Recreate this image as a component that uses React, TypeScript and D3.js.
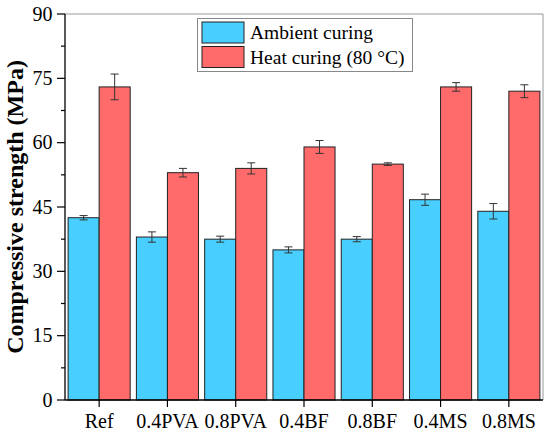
import React from "react";
import * as d3 from "d3";

const categories = ["Ref", "0.4PVA", "0.8PVA", "0.4BF", "0.8BF", "0.4MS", "0.8MS"];
const ambient = [42.5, 38, 37.5, 35, 37.5, 46.7, 44];
const ambientErr = [0.5, 1.2, 0.7, 0.7, 0.6, 1.3, 1.8];
const heat = [73, 53, 54, 59, 55, 73, 72];
const heatErr = [3, 1, 1.3, 1.5, 0.3, 1, 1.5];
const seriesNames = ["Ambient curing", "Heat curing (80 °C)"];
const yTicks = [0, 15, 30, 45, 60, 75, 90];
const yMinor = [7.5, 22.5, 37.5, 52.5, 67.5, 82.5];

const W = 550, H = 435;
const m = { l: 65, r: 7, t: 14, b: 35 };
const font = "'Liberation Serif', 'Times New Roman', serif";
const colors = ["#48CFFF", "#FF6B6B"];

export default function App() {
  const x = d3.scaleBand<string>().domain(categories).range([m.l, W - m.r]).paddingInner(0).paddingOuter(0);
  const inner = d3.scaleBand<number>().domain([0, 1]).range([0, x.bandwidth()]).paddingInner(0).paddingOuter(0.1);
  const y = d3.scaleLinear().domain([0, 90]).range([H - m.b, m.t]);
  const series = [
    { vals: ambient, errs: ambientErr },
    { vals: heat, errs: heatErr },
  ];
  return (
    <svg width={W} height={H} style={{ position: "absolute", left: 0, top: 0, background: "#fff" }}>
      <rect x={0} y={0} width={W} height={H} fill="#fff" />
      {/* frame */}
      <line x1={m.l} x2={W - m.r} y1={m.t} y2={m.t} stroke="#999" strokeWidth={1} />
      <line x1={W - m.r} x2={W - m.r} y1={m.t} y2={H - m.b} stroke="#999" strokeWidth={1} />
      {/* bars */}
      {categories.map((c, i) => (
        <g key={c}>
          {series.map((s, k) => {
            const bx = (x(c) as number) + (inner(k) as number);
            const bw = inner.bandwidth();
            const cx = bx + bw / 2;
            const v = s.vals[i], e = s.errs[i];
            return (
              <g key={k}>
                <rect x={bx} y={y(v)} width={bw} height={y(0) - y(v)} fill={colors[k]} stroke="#222" strokeWidth={1} />
                <line x1={cx} x2={cx} y1={y(v + e)} y2={y(v - e)} stroke="#333" strokeWidth={1} />
                <line x1={cx - 4} x2={cx + 4} y1={y(v + e)} y2={y(v + e)} stroke="#333" strokeWidth={1} />
                <line x1={cx - 4} x2={cx + 4} y1={y(v - e)} y2={y(v - e)} stroke="#333" strokeWidth={1} />
              </g>
            );
          })}
        </g>
      ))}
      {/* y axis */}
      <line x1={m.l} x2={m.l} y1={m.t} y2={H - m.b} stroke="#000" strokeWidth={1.3} />
      {yTicks.map((t) => (
        <g key={t}>
          <line x1={m.l - 8} x2={m.l} y1={y(t)} y2={y(t)} stroke="#000" strokeWidth={1.2} />
          <text x={m.l - 12.5} y={y(t)} dy="0.33em" textAnchor="end" fontFamily={font} fontSize={20}>{t}</text>
        </g>
      ))}
      {yMinor.map((t) => (
        <line key={t} x1={m.l - 4} x2={m.l} y1={y(t)} y2={y(t)} stroke="#000" strokeWidth={1.2} />
      ))}
      {/* x axis */}
      <line x1={m.l} x2={W - m.r} y1={H - m.b} y2={H - m.b} stroke="#000" strokeWidth={1.3} />
      {categories.map((c) => {
        const cx = (x(c) as number) + x.bandwidth() / 2;
        return (
          <g key={c}>
            <line x1={cx} x2={cx} y1={H - m.b} y2={H - m.b + 7} stroke="#000" strokeWidth={1.2} />
            <text x={cx} y={H - 7} textAnchor="middle" fontFamily={font} fontSize={20}>{c}</text>
          </g>
        );
      })}
      <text transform={`translate(22.5, ${(m.t + H - m.b) / 2}) rotate(-90)`} textAnchor="middle" fontFamily={font} fontSize={24} fontWeight="bold">Compressive strength (MPa)</text>
      {/* legend */}
      <rect x={197.5} y={18.5} width={215} height={53} fill="#fff" stroke="#888" strokeWidth={1} />
      {seriesNames.map((n, k) => (
        <g key={n}>
          <rect x={202} y={22 + k * 24.5} width={42} height={21} fill={colors[k]} stroke="#222" strokeWidth={1} />
          <text x={250} y={22 + k * 24.5 + 10.5} dy="0.35em" fontFamily={font} fontSize={19.5}>{n}</text>
        </g>
      ))}
    </svg>
  );
}
